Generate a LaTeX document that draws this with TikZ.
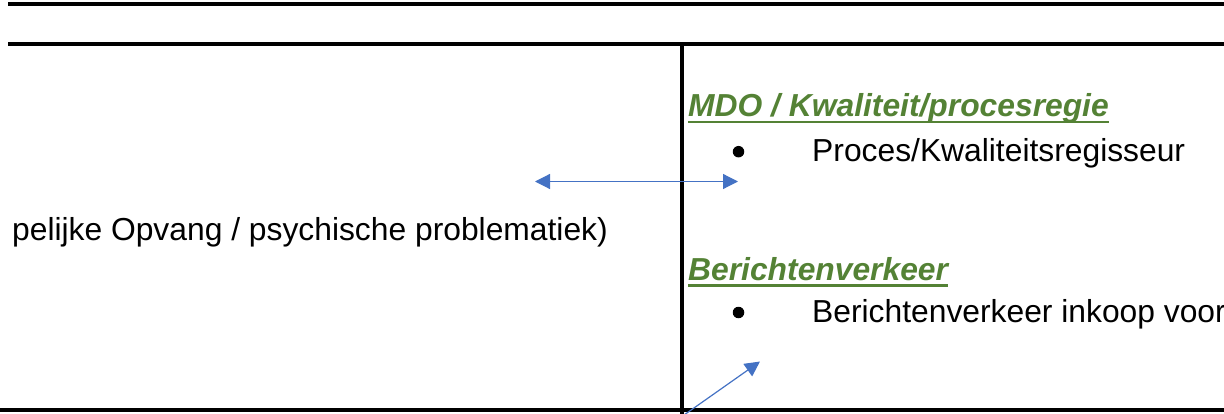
\documentclass[tikz,border=0pt]{standalone}
\usepackage{fontspec}
\setmainfont{Liberation Sans}
\usetikzlibrary{arrows.meta}
\definecolor{hgreen}{HTML}{548235}
\definecolor{abluec}{HTML}{4472C4}
\begin{document}
\begin{tikzpicture}[x=1pt,y=-1pt,
  rule/.style={line width=4.2pt,black},
  body/.style={inner sep=0pt,font=\fontsize{31.8}{38}\selectfont},
  head/.style={body,text=hgreen,font=\fontsize{31.8}{38}\selectfont\bfseries\itshape},
  uline/.style={hgreen,line width=2.4pt},
  bul/.style={circle,fill=black,inner sep=0pt,minimum size=11.5pt},
  barrow/.style={abluec,line width=1.2pt,-{Triangle[length=15pt,width=15pt]}},
  darrow/.style={abluec,line width=1.2pt,{Triangle[length=15pt,width=15pt]}-{Triangle[length=15pt,width=15pt]}}]
\useasboundingbox (0,0) rectangle (1224,414);
\clip (0,0) rectangle (1224,414);
% table rules
\coordinate (t1l) at (8,4.3);   \coordinate (t1r) at (1226,4.3);
\coordinate (t2l) at (8,44.2);  \coordinate (t2r) at (1226,44.2);
\coordinate (t3l) at (-2,410.3); \coordinate (t3r) at (1226,410.3);
\coordinate (vt) at (681.8,42.5); \coordinate (vb) at (681.8,416);
\draw[rule] (t1l) -- (t1r);
\draw[rule] (t2l) -- (t2r);
\draw[rule] (t3l) -- (t3r);
\draw[rule] (vt) -- (vb);
% left cell text
\node[body,anchor=base east] (ltxt) at (608,241) {pelijke Opvang / psychische problematiek)};
% right cell
\node[head,anchor=base west] (h1) at (688,117) {MDO / Kwaliteit/procesregie};
\draw[uline] ([yshift=-5pt]h1.base west) -- ([yshift=-5pt]h1.base east);
\node[bul] (b1) at (738.5,151.7) {};
\node[body,anchor=base west] (t1) at (812,161.5) {Proces/Kwaliteitsregisseur};
\node[head,anchor=base west] (h2) at (688,280.5) {Berichtenverkeer};
\draw[uline] ([yshift=-5pt]h2.base west) -- ([yshift=-5pt]h2.base east);
\node[bul] (b2) at (738.5,312.5) {};
\node[body,anchor=base west] (t2) at (812,322) {Berichtenverkeer inkoop voor};
% arrows
\coordinate (a1l) at (535,181.5);
\coordinate (a1r) at (738,181.5);
\draw[darrow] (a1l) -- (a1r);
\coordinate (a2s) at (684,415);
\coordinate (a2e) at (760,361.5);
\draw[barrow] (a2s) -- (a2e);
\end{tikzpicture}
\end{document}
